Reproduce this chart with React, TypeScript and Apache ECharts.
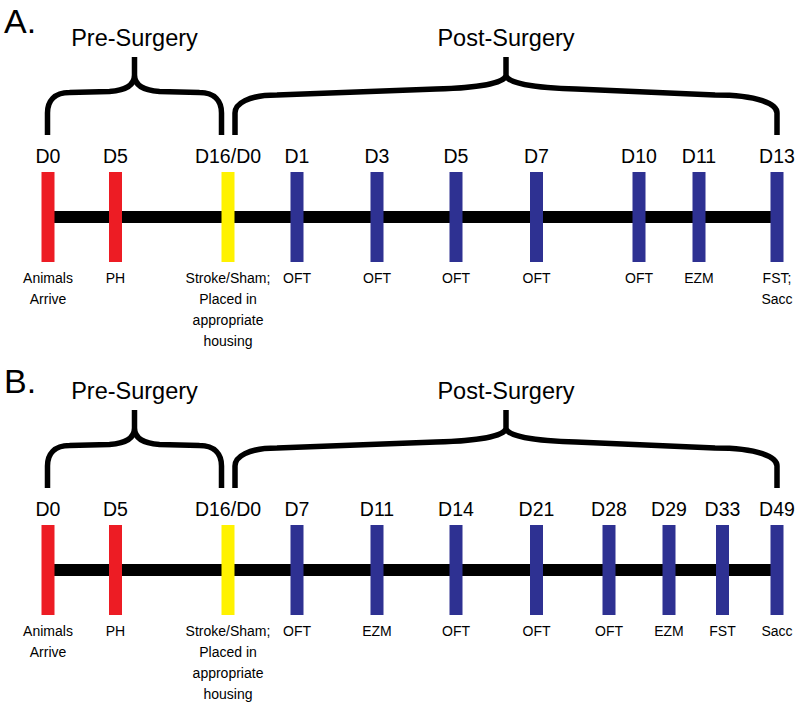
import React, { useEffect, useRef } from "react";
import * as echarts from "echarts";

// ---- Data ----
const panelTitles = ["A.", "B."];
const phaseNames = ["Pre-Surgery", "Post-Surgery"];

const daysA = ["D0", "D5", "D16/D0", "D1", "D3", "D5", "D7", "D10", "D11", "D13"];
const activitiesA = [
  "Animals\nArrive",
  "PH",
  "Stroke/Sham;\nPlaced in\nappropriate\nhousing",
  "OFT",
  "OFT",
  "OFT",
  "OFT",
  "OFT",
  "EZM",
  "FST;\nSacc",
];
// schematic position of each event along the timeline (layout units, not days)
const positionsA = [0, 67.5, 180, 249, 329, 408, 488.5, 591, 651, 729];

const daysB = ["D0", "D5", "D16/D0", "D7", "D11", "D14", "D21", "D28", "D29", "D33", "D49"];
const activitiesB = [
  "Animals\nArrive",
  "PH",
  "Stroke/Sham;\nPlaced in\nappropriate\nhousing",
  "OFT",
  "EZM",
  "OFT",
  "OFT",
  "OFT",
  "EZM",
  "FST",
  "Sacc",
];
const positionsB = [0, 67.5, 180, 249, 329, 408, 488.5, 561, 621, 674.5, 729];

const surgeryDay = "D16/D0";

const FONT = "'Liberation Sans', Arial, Helvetica, sans-serif";
const COLORS: Record<string, string> = {
  pre: "#ED1C24",
  surgery: "#FFF200",
  post: "#2E3192",
};

const panels = [
  { title: panelTitles[0], days: daysA, activities: activitiesA, positions: positionsA },
  { title: panelTitles[1], days: daysB, activities: activitiesB, positions: positionsB },
];

function bracePath(x1: number, x2: number, L: number, long: boolean) {
  const xm = (x1 + x2) / 2;
  const cL = long ? 42 : 22;
  const cR = long ? 62 : 22;
  const m = long ? 70 : 25;
  const slope = long ? 3 : 0.5;
  const yb = L - 82;
  const yl = L - 104;
  const yh = L - 125;
  const yj = L - 142;
  const yt = L - 160;
  const yA = yh + slope; // near outer corners
  const yB = yh - slope; // near the middle
  return (
    `M${x1},${yb} L${x1},${yl} ` +
    `C${x1},${yA + 9} ${x1 + cL * 0.3},${yA} ${x1 + cL},${yA} ` +
    `L${xm - m},${yB} ` +
    `C${xm - m * 0.4},${yB - 1} ${xm},${yB - 6} ${xm},${yj} ` +
    `L${xm},${yt} M${xm},${yj} ` +
    `C${xm},${yB - 6} ${xm + m * 0.4},${yB - 1} ${xm + m},${yB} ` +
    `L${x2 - cR},${yA} ` +
    `C${x2 - cR * 0.3},${yA} ${x2},${yA + 9} ${x2},${yl} ` +
    `L${x2},${yb}`
  );
}

function buildOption() {
  const grid: any[] = [];
  const xAxis: any[] = [];
  const yAxis: any[] = [];
  const series: any[] = [];
  const graphic: any[] = [];

  panels.forEach((p, k) => {
    const first = p.positions[0];
    const last = p.positions[p.positions.length - 1];
    const s = p.days.indexOf(surgeryDay);

    grid.push({ left: 48, width: 729, top: 67 + k * 360, height: 300, containLabel: false });
    xAxis.push({ gridIndex: k, type: "value", min: first, max: last, show: false });
    yAxis.push({ gridIndex: k, type: "value", min: -1, max: 1, show: false });

    graphic.push({
      type: "text",
      left: 4,
      top: 4 + k * 360,
      style: { text: p.title, font: `34px ${FONT}`, fill: "#000" },
    });

    // timeline bar
    series.push({
      type: "line",
      xAxisIndex: k,
      yAxisIndex: k,
      data: [
        [first, 0],
        [last, 0],
      ],
      symbol: "none",
      silent: true,
      lineStyle: { color: "#000", width: 12, cap: "butt" },
      z: 1,
    });

    // events
    series.push({
      type: "custom",
      xAxisIndex: k,
      yAxisIndex: k,
      clip: false,
      silent: true,
      z: 3,
      data: p.positions.map((pos, i) => [pos, 0, i]),
      renderItem: (params: any, api: any) => {
        const i = params.dataIndex;
        const c = api.coord([api.value(0), 0]);
        const kind = i < s ? "pre" : i === s ? "surgery" : "post";
        return {
          type: "group",
          children: [
            {
              type: "rect",
              shape: { x: c[0] - 6.5, y: c[1] - 45, width: 13, height: 90 },
              style: { fill: COLORS[kind] },
            },
            {
              type: "text",
              x: c[0],
              y: c[1] - 61.5,
              style: {
                text: p.days[i],
                fill: "#000",
                font: `19.5px ${FONT}`,
                align: "center",
                verticalAlign: "middle",
              },
            },
            {
              type: "text",
              x: c[0],
              y: c[1] + 50.5,
              style: {
                text: p.activities[i],
                fill: "#000",
                font: `14px ${FONT}`,
                align: "center",
                verticalAlign: "top",
                lineHeight: 21,
              },
            },
          ],
        };
      },
    });

    // braces
    series.push({
      type: "custom",
      xAxisIndex: k,
      yAxisIndex: k,
      clip: false,
      silent: true,
      z: 2,
      data: [
        [first, p.positions[s], 0],
        [p.positions[s], last, 1],
      ],
      renderItem: (params: any, api: any) => {
        const j = params.dataIndex;
        const a = api.coord([api.value(0), 0]);
        const b = api.coord([api.value(1), 0]);
        const x1 = a[0] + (j === 1 ? 7 : -0.5);
        const x2 = b[0] + (j === 0 ? -6.5 : 0);
        const L = a[1];
        const xm = (x1 + x2) / 2;
        return {
          type: "group",
          children: [
            {
              type: "path",
              shape: { pathData: bracePath(x1, x2, L, j === 1) },
              style: { stroke: "#000", lineWidth: 5.5, fill: "none", lineJoin: "round" },
            },
            {
              type: "text",
              x: xm,
              y: L - 179,
              style: {
                text: phaseNames[j],
                fill: "#000",
                font: `23.5px ${FONT}`,
                align: "center",
                verticalAlign: "middle",
              },
            },
          ],
        };
      },
    });
  });

  return {
    animation: false,
    backgroundColor: "#ffffff",
    grid,
    xAxis,
    yAxis,
    series,
    graphic,
  };
}

export default function App() {
  const ref = useRef<HTMLDivElement | null>(null);
  useEffect(() => {
    if (!ref.current) return;
    const chart = echarts.init(ref.current, null, { renderer: "svg" });
    chart.setOption(buildOption() as any);
    return () => chart.dispose();
  }, []);
  return (
    <div
      ref={ref}
      style={{ position: "fixed", left: 0, top: 0, width: 795, height: 713, background: "#fff" }}
    />
  );
}
